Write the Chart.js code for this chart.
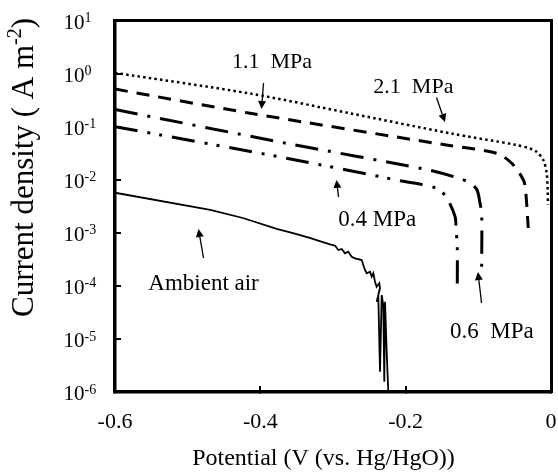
<!DOCTYPE html>
<html><head><meta charset="utf-8">
<script src="https://cdn.jsdelivr.net/npm/chart.js@4/dist/chart.umd.min.js"></script>
<style>html,body{margin:0;padding:0;background:#fff}canvas{display:block}</style>
</head><body>
<canvas id="c" width="558" height="475"></canvas>
<script>
// ---- data (potential in V vs Hg/HgO, current density in A m^-2) ----
const pressure21Potential = [-0.600, -0.414, -0.277, -0.139, -0.047, -0.0289, -0.020, -0.0106, -0.0059, -0.0046, -0.0042];
const pressure21Current   = [1.03, 0.42, 0.179, 0.075, 0.045, 0.0387, 0.0337, 0.0236, 0.0132, 0.0064, 0.0034];

const pressure11Potential = [-0.600, -0.414, -0.144, -0.075, -0.054, -0.038, -0.035, -0.0313];
const pressure11Current   = [0.51, 0.179, 0.045, 0.0315, 0.0204, 0.0099, 0.0064, 0.00123];

const pressure06Potential = [-0.600, -0.364, -0.173, -0.128, -0.1115, -0.1018, -0.0977, -0.0954, -0.0954];
const pressure06Current   = [0.21, 0.0485, 0.0157, 0.0108, 0.00867, 0.0064, 0.0036, 0.00236, 0.000226];

const pressure04Potential = [-0.600, -0.364, -0.2055, -0.157, -0.1435, -0.132, -0.1307, -0.129, -0.129];
const pressure04Current   = [0.10, 0.0254, 0.00946, 0.00689, 0.00453, 0.00201, 0.00113, 0.00059, 0.000084];

const ambientPotential = [-0.600, -0.469, -0.424, -0.3775, -0.355, -0.332, -0.314, -0.304, -0.297, -0.2927, -0.288, -0.2835,
  -0.279, -0.2743, -0.2697, -0.2605, -0.2583, -0.256, -0.2536, -0.2491, -0.2467, -0.2445, -0.2422, -0.2399, -0.2363,
  -0.2353, -0.2399, -0.2377, -0.2353, -0.233, -0.2308, -0.2294, -0.2284, -0.2261, -0.2239];
const ambientCurrent = [5.69e-3, 2.69e-3, 1.90e-3, 1.18e-3, 9.9e-4, 7.98e-4, 6.70e-4, 6.07e-4, 5.71e-4, 4.74e-4, 4.95e-4, 4.11e-4,
  4.41e-4, 3.54e-4, 3.30e-4, 3.07e-4, 2.47e-4, 1.99e-4, 1.73e-4, 1.85e-4, 1.49e-4, 1.73e-4, 1.20e-4, 9.6e-5, 1.12e-4,
  9.0e-5, 5.0e-5, 6.7e-5, 2.4e-6, 6.7e-5, 4.35e-5, 1.56e-6, 5.0e-5, 5.7e-6, 1.0e-6];

const seriesNames = ['2.1 MPa', '1.1 MPa', '0.6 MPa', '0.4 MPa', 'Ambient air'];
const xTickValues = [-0.6, -0.4, -0.2, 0];
const xTickLabels = ['-0.6', '-0.4', '-0.2', '0'];
const yTickExponents = [1, 0, -1, -2, -3, -4, -5, -6];
const xTitle = 'Potential (V (vs. Hg/HgO))';
const yTitleMain = 'Current density ( A m', yTitleSup = '-2', yTitleEnd = ')';

// annotation labels and arrows, anchored in data coordinates
const notes = [
  { text: '1.1  MPa', at: [-0.439, 1.27], size: 22, from: [-0.3956, 0.665], to: [-0.3984, 0.215] },
  { text: '2.1  MPa', at: [-0.2445, 0.43], size: 22, from: [-0.1576, 0.354], to: [-0.1459, 0.1224] },
  { text: '0.4 MPa', at: [-0.2927, 1.34e-3], size: 23, from: [-0.2924, 4.72e-3], to: [-0.2952, 9.9e-3] },
  { text: 'Ambient air', at: [-0.5542, 8.36e-5], size: 23, from: [-0.4782, 3.35e-4], to: [-0.4851, 1.18e-3] },
  { text: '0.6  MPa', at: [-0.139, 1.04e-5], size: 23, from: [-0.0956, 4.75e-5], to: [-0.1005, 1.82e-4] }
];

const FONT = '"Liberation Serif"';
function pts(xs, ys) { return xs.map((x, i) => ({ x: x, y: ys[i] })); }
function ds(label, xs, ys, dash, width, tension) {
  return { label: label, data: pts(xs, ys), showLine: true, borderColor: '#000', backgroundColor: '#000',
    borderWidth: width, borderDash: dash, pointRadius: 0, pointHoverRadius: 0, tension: tension, fill: false };
}

const textPlugin = {
  id: 'texts',
  afterDraw(chart) {
    const ctx = chart.ctx, xs = chart.scales.x, ys = chart.scales.y;
    ctx.save();
    ctx.fillStyle = '#000'; ctx.strokeStyle = '#000';
    ctx.textAlign = 'left'; ctx.textBaseline = 'alphabetic';
    // y tick labels with superscript exponents
    yTickExponents.forEach(e => {
      const py = ys.getPixelForValue(Math.pow(10, e));
      ctx.font = '21px ' + FONT;
      ctx.fillText('10', 63.5, py + 8.3);
      const w = ctx.measureText('10').width;
      ctx.font = '14px ' + FONT;
      ctx.fillText(String(e), 63.5 + w, py + 1.6);
    });
    // y title
    ctx.save();
    ctx.translate(33, 167.5);
    ctx.rotate(-Math.PI / 2);
    ctx.font = '31px ' + FONT;
    const w1 = ctx.measureText(yTitleMain).width, w3 = ctx.measureText(yTitleEnd).width;
    ctx.font = '20px ' + FONT;
    const w2 = ctx.measureText(yTitleSup).width;
    const sx = -(w1 + w2 + w3) / 2;
    ctx.font = '31px ' + FONT; ctx.fillText(yTitleMain, sx, 0);
    ctx.font = '20px ' + FONT; ctx.fillText(yTitleSup, sx + w1, -12);
    ctx.font = '31px ' + FONT; ctx.fillText(yTitleEnd, sx + w1 + w2, 0);
    ctx.restore();
    // x title
    ctx.font = '24px ' + FONT; ctx.textAlign = 'center';
    ctx.fillText(xTitle, 323.5, 465);
    ctx.textAlign = 'left';
    // annotations
    notes.forEach(n => {
      ctx.font = n.size + 'px ' + FONT;
      ctx.fillText(n.text, xs.getPixelForValue(n.at[0]), ys.getPixelForValue(n.at[1]));
      const x1 = xs.getPixelForValue(n.from[0]), y1 = ys.getPixelForValue(n.from[1]);
      const x2 = xs.getPixelForValue(n.to[0]), y2 = ys.getPixelForValue(n.to[1]);
      const ang = Math.atan2(y2 - y1, x2 - x1), hl = 8, hw = 4;
      const bx = x2 - hl * Math.cos(ang), by = y2 - hl * Math.sin(ang);
      ctx.lineWidth = 1.3;
      ctx.beginPath(); ctx.moveTo(x1, y1); ctx.lineTo(bx, by); ctx.stroke();
      ctx.beginPath();
      ctx.moveTo(x2, y2);
      ctx.lineTo(bx + hw * Math.sin(ang), by - hw * Math.cos(ang));
      ctx.lineTo(bx - hw * Math.sin(ang), by + hw * Math.cos(ang));
      ctx.closePath(); ctx.fill();
    });
    ctx.restore();
  }
};

new Chart(document.getElementById('c').getContext('2d'), {
  type: 'scatter',
  data: {
    datasets: [
      ds(seriesNames[0], pressure21Potential, pressure21Current, [2.5, 3.2], 2.5, 0.3),
      ds(seriesNames[1], pressure11Potential, pressure11Current, [13, 9], 3, 0.3),
      ds(seriesNames[2], pressure06Potential, pressure06Current, [23, 10, 3, 10], 3, 0.3),
      ds(seriesNames[3], pressure04Potential, pressure04Current, [23, 10, 3, 9, 3, 10], 3, 0.3),
      ds(seriesNames[4], ambientPotential, ambientCurrent, [], 1.8, 0)
    ]
  },
  options: {
    responsive: false, animation: false, events: [],
    layout: { padding: { left: 0, right: 7, top: 20.5, bottom: 0 } },
    plugins: { legend: { display: false }, tooltip: { enabled: false }, title: { display: false } },
    scales: {
      x: {
        type: 'linear', position: 'bottom', min: -0.6, max: 0,
        afterBuildTicks: s => { s.ticks = xTickValues.map(v => ({ value: v })); },
        afterFit: s => { s.height = 83; s.paddingLeft = 0; s.paddingRight = 0; },
        ticks: { color: '#000', font: { family: FONT, size: 22 }, padding: 22.8, maxRotation: 0,
          callback: (v, i) => xTickLabels[i] },
        grid: { drawOnChartArea: false, drawTicks: true, tickLength: -6, color: '#000', lineWidth: 2 },
        border: { color: '#000', width: 3.5 }
      },
      y: {
        type: 'logarithmic', position: 'left', min: 1e-6, max: 10,
        afterBuildTicks: s => { s.ticks = yTickExponents.map(e => ({ value: Math.pow(10, e) })); },
        afterFit: s => { s.width = 115; s.paddingTop = 0; s.paddingBottom = 0; },
        ticks: { display: false },
        grid: { drawOnChartArea: false, drawTicks: true, tickLength: -6, color: '#000', lineWidth: 2 },
        border: { color: '#000', width: 3.5 }
      },
      x2: {
        type: 'linear', position: 'top', min: -0.6, max: 0,
        afterFit: s => { s.height = 0; s.paddingLeft = 0; s.paddingRight = 0; },
        ticks: { display: false }, grid: { display: false },
        border: { color: '#000', width: 3 }
      },
      y2: {
        type: 'linear', position: 'right', min: 0, max: 1,
        afterFit: s => { s.width = 0; s.paddingTop = 0; s.paddingBottom = 0; },
        ticks: { display: false }, grid: { display: false },
        border: { color: '#000', width: 3 }
      }
    }
  },
  plugins: [textPlugin]
});
</script>
</body></html>
